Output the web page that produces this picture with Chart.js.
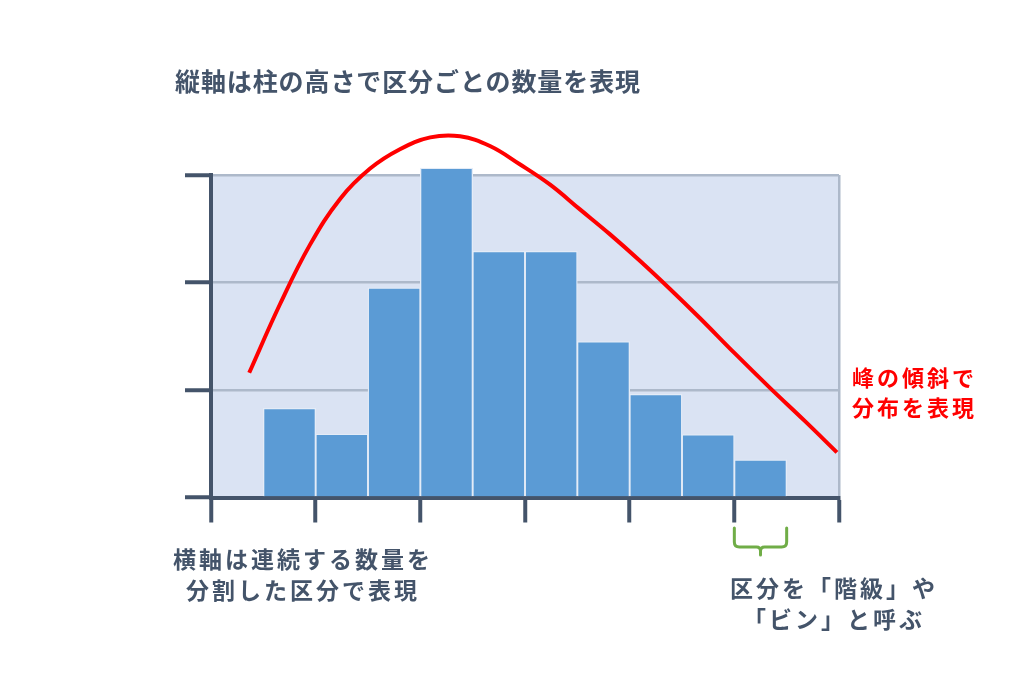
<!DOCTYPE html>
<html><head><meta charset="utf-8">
<script src="https://cdn.jsdelivr.net/npm/chart.js@4/dist/chart.umd.min.js"></script>
<style>
html,body{margin:0;padding:0;background:#fff;overflow:hidden;}
#wrap{position:relative;width:1024px;height:682px;}
canvas{position:absolute;left:0;top:0;}
.t{position:absolute;font-family:"Noto Sans CJK JP","Noto Sans",sans-serif;font-weight:700;color:#44546a;white-space:nowrap;}
</style></head>
<body><div id="wrap">
<canvas id="c" width="1024" height="682"></canvas>
<div class="t" id="title" style="left:175px;top:65px;font-size:25px;line-height:31px;letter-spacing:0.9px;">縦軸は柱の高さで区分ごとの数量を表現</div>
<div class="t" style="left:150px;top:543px;width:300px;text-align:center;font-size:23px;line-height:31px;letter-spacing:3px;padding-left:3px;">横軸は連続する数量を<br>分割した区分で表現</div>
<div class="t" style="left:852px;top:362px;font-size:22px;line-height:29.5px;letter-spacing:3px;color:#ff0000;">峰の傾斜で<br>分布を表現</div>
<div class="t" style="left:681px;top:572px;width:300px;text-align:center;font-size:23px;line-height:31px;letter-spacing:3px;padding-left:3px;">区分を「階級」や<br>「ビン」と呼ぶ</div>
</div>
<script>
// bin centers (in bin units) and counts
const binCenters = [1.5, 2.5, 3.5, 4.5, 5.5, 6.5, 7.5, 8.5, 9.5, 10.5];
const binCounts  = [8.3, 5.9, 19.5, 30.65, 22.9, 22.9, 14.5, 9.6, 5.85, 3.5];
// red distribution curve
const curveX = [0.73, 1.32, 1.89, 2.47, 3.04, 3.61, 4.19, 4.76, 5.33, 5.90, 6.48, 7.05, 7.62, 8.20, 8.77, 9.34, 10.01, 10.68, 11.35, 11.96];
const curveY = [11.6, 18.0, 23.5, 27.8, 30.6, 32.4, 33.5, 33.6, 32.7, 31.0, 29.1, 26.8, 24.5, 22.0, 19.4, 16.7, 13.4, 10.2, 7.1, 4.2];
const yTicks = [0, 10, 20, 30];
const xTicks = [0, 2, 4, 6, 8, 10, 12];
const braceBin = [10, 11];

const AXIS = '#44546a', GRID = '#adb9ca';

const bgPlugin = {
  id: 'bg',
  beforeDraw(chart) {
    const a = chart.chartArea, ctx = chart.ctx;
    ctx.save(); ctx.fillStyle = '#dae3f3';
    ctx.fillRect(a.left, a.top, a.right - a.left, a.bottom - a.top);
    ctx.restore();
  }
};
const bracePlugin = {
  id: 'brace',
  afterDraw(chart) {
    const xs = chart.scales.x, ctx = chart.ctx;
    const x1 = xs.getPixelForValue(braceBin[0]), x2 = xs.getPixelForValue(braceBin[1]);
    const xm = (x1 + x2) / 2;
    const top = xs.bottom + 5.5, yh = top + 19, ye = top + 27;
    ctx.save();
    ctx.strokeStyle = '#70ad47'; ctx.lineWidth = 3; ctx.lineCap = 'round'; ctx.lineJoin = 'round';
    ctx.beginPath();
    ctx.moveTo(x1, top); ctx.lineTo(x1, yh - 5);
    ctx.quadraticCurveTo(x1, yh, x1 + 5, yh);
    ctx.lineTo(xm - 4, yh);
    ctx.quadraticCurveTo(xm, yh, xm, yh + 4);
    ctx.lineTo(xm, ye);
    ctx.moveTo(xm, yh + 4);
    ctx.quadraticCurveTo(xm, yh, xm + 4, yh);
    ctx.lineTo(x2 - 5, yh);
    ctx.quadraticCurveTo(x2, yh, x2, yh - 5);
    ctx.lineTo(x2, top);
    ctx.stroke();
    ctx.restore();
  }
};

new Chart(document.getElementById('c'), {
  type: 'bar',
  data: {
    datasets: [
      {
        type: 'line',
        data: curveX.map((x, i) => ({x, y: curveY[i]})),
        borderColor: '#ff0000', borderWidth: 4, pointRadius: 0,
        tension: 0.4,
        clip: false, order: 0, fill: false
      },
      {
        type: 'bar',
        data: binCenters.map((x, i) => ({x, y: binCounts[i]})),
        backgroundColor: '#5b9bd5', borderColor: '#e4ecf7', borderWidth: 1.3,
        barPercentage: 1, categoryPercentage: 1,
        clip: false, order: 1
      }
    ]
  },
  options: {
    responsive: false, devicePixelRatio: 1, animation: false,
    layout: {padding: {left: 185, right: 185, top: 175, bottom: 159.5}},
    plugins: {legend: {display: false}, tooltip: {enabled: false}, title: {display: false}},
    scales: {
      x: {
        type: 'linear', min: 0, max: 12, z: 1, offset: false,
        afterBuildTicks: s => { s.ticks = xTicks.map(v => ({value: v})); },
        afterFit: s => { s.height = 25; },
        ticks: {display: false},
        grid: {
          offset: false,
          color: c => (c.tick && c.tick.value === 12) ? GRID : 'rgba(0,0,0,0)',
          lineWidth: 2.5, tickColor: AXIS, tickWidth: 4, tickLength: 25
        },
        border: {color: AXIS, width: 4}
      },
      y: {
        min: 0, max: 30,
        afterBuildTicks: s => { s.ticks = yTicks.map(v => ({value: v})); },
        afterFit: s => { s.width = 26; },
        ticks: {display: false},
        grid: {color: GRID, lineWidth: 2.5, tickColor: AXIS, tickWidth: 4, tickLength: 26},
        border: {color: AXIS, width: 4}
      }
    }
  },
  plugins: [bgPlugin, bracePlugin]
});
</script>
</body></html>
